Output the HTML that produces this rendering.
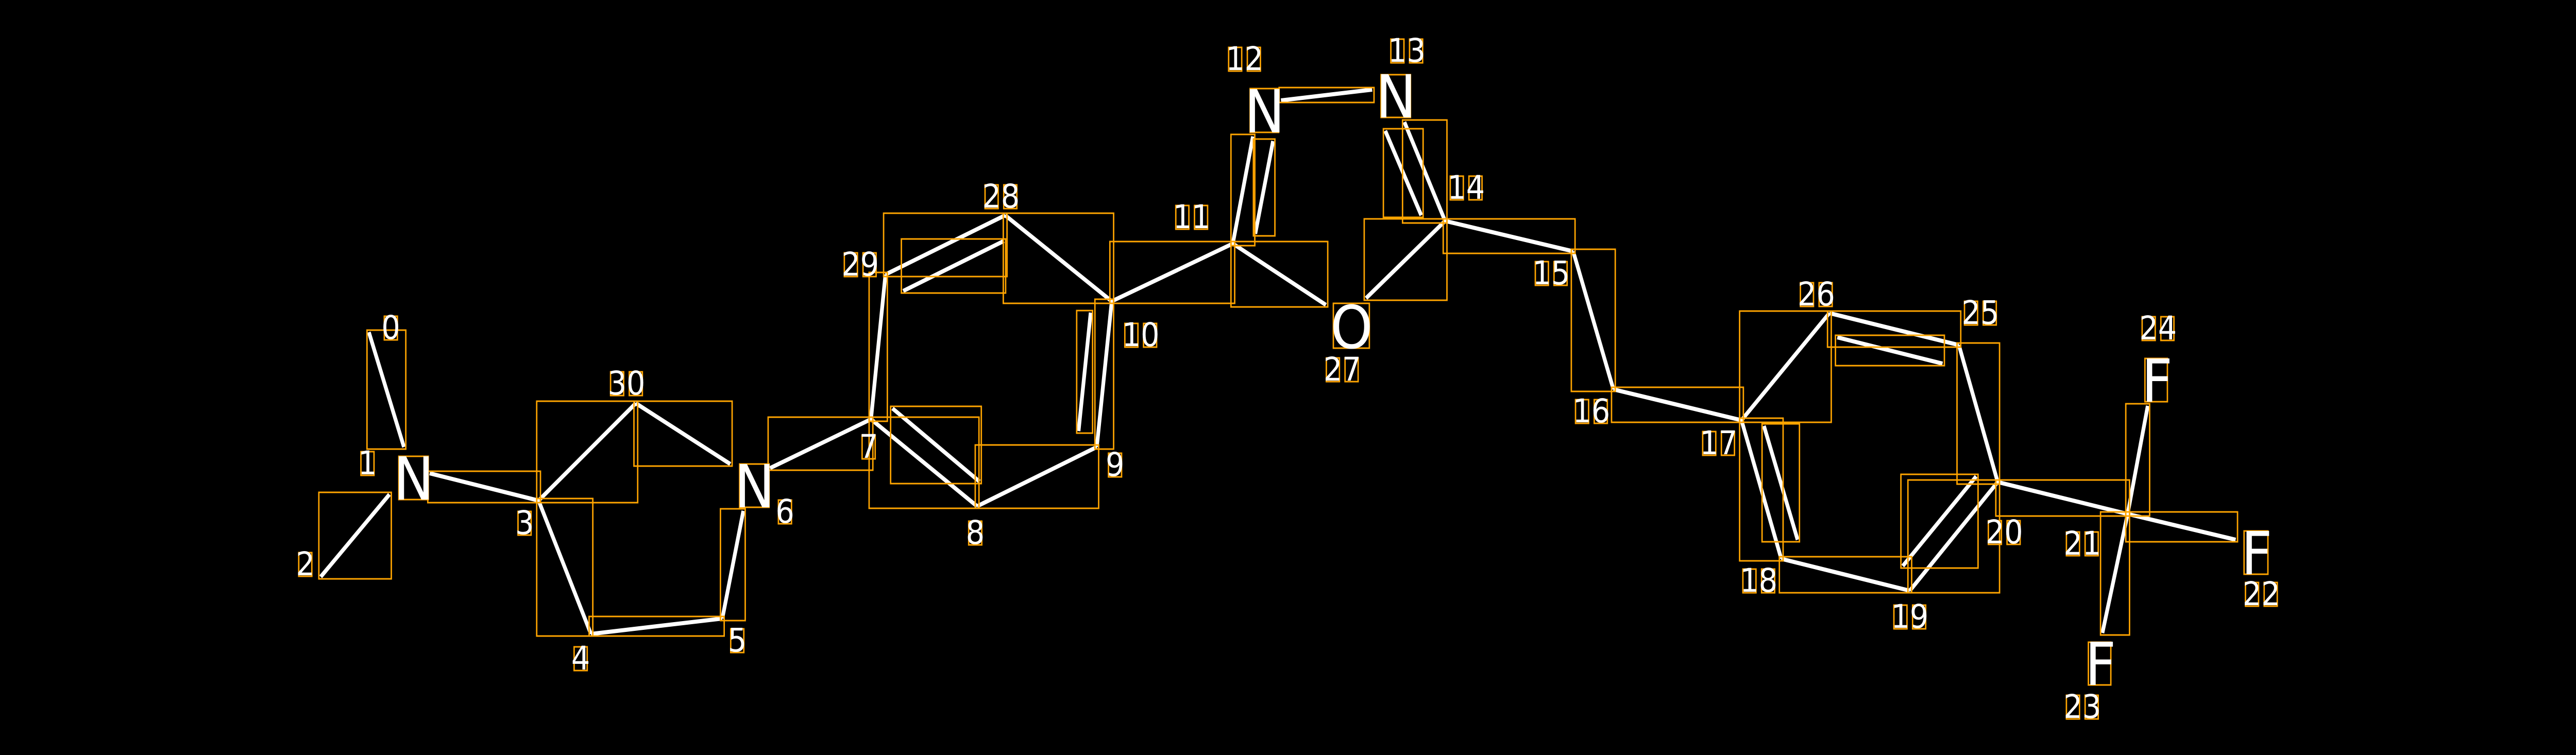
<!DOCTYPE html>
<html><head><meta charset="utf-8"><style>
html,body{margin:0;padding:0;background:#000;width:100%;height:100%;overflow:hidden;}
svg{display:block;position:fixed;left:0;top:0;width:100vw;height:100vh;}
</style></head><body>
<svg viewBox="0 0 5510 1466" preserveAspectRatio="none" xmlns="http://www.w3.org/2000/svg">
<rect x="0" y="0" width="5510" height="1466" fill="#000"/>
<g stroke="#fff" stroke-width="8">
<line x1="789" y1="645" x2="864" y2="868"/>
<line x1="833" y1="960" x2="686" y2="1120"/>
<line x1="919" y1="919" x2="1152" y2="972"/>
<line x1="1152" y1="972" x2="1360" y2="783"/>
<line x1="1360" y1="783" x2="1562" y2="901"/>
<line x1="1152" y1="972" x2="1264" y2="1231"/>
<line x1="1264" y1="1231" x2="1545" y2="1201"/>
<line x1="1545" y1="1201" x2="1590" y2="992"/>
<line x1="1647" y1="909" x2="1863" y2="814"/>
<line x1="1863" y1="814" x2="2090" y2="983"/>
<line x1="1909" y1="793" x2="2095" y2="935"/>
<line x1="2090" y1="983" x2="2346" y2="868"/>
<line x1="2346" y1="868" x2="2378" y2="585"/>
<line x1="2307" y1="837" x2="2333" y2="607"/>
<line x1="2378" y1="585" x2="2150" y2="418"/>
<line x1="2150" y1="418" x2="1894" y2="533"/>
<line x1="1932" y1="565" x2="2147" y2="468"/>
<line x1="1894" y1="533" x2="1863" y2="814"/>
<line x1="2378" y1="585" x2="2637" y2="473"/>
<line x1="2637" y1="473" x2="2680" y2="265"/>
<line x1="2685" y1="454" x2="2723" y2="274"/>
<line x1="2740" y1="195" x2="2935" y2="174"/>
<line x1="3004" y1="237" x2="3091" y2="429"/>
<line x1="2963" y1="254" x2="3040" y2="418"/>
<line x1="3091" y1="429" x2="2922" y2="579"/>
<line x1="2637" y1="473" x2="2836" y2="592"/>
<line x1="3091" y1="429" x2="3365" y2="488"/>
<line x1="3365" y1="488" x2="3451" y2="756"/>
<line x1="3451" y1="756" x2="3725" y2="816"/>
<line x1="3725" y1="816" x2="3913" y2="608"/>
<line x1="3913" y1="608" x2="4190" y2="670"/>
<line x1="3930" y1="655" x2="4155" y2="706"/>
<line x1="4190" y1="670" x2="4273" y2="936"/>
<line x1="4273" y1="936" x2="4085" y2="1147"/>
<line x1="4070" y1="1099" x2="4227" y2="925"/>
<line x1="4085" y1="1147" x2="3810" y2="1085"/>
<line x1="3810" y1="1085" x2="3725" y2="816"/>
<line x1="3773" y1="827" x2="3845" y2="1048"/>
<line x1="4273" y1="936" x2="4551" y2="998"/>
<line x1="4551" y1="998" x2="4594" y2="788"/>
<line x1="4551" y1="998" x2="4782" y2="1048"/>
<line x1="4551" y1="998" x2="4497" y2="1229"/>
</g>
<g fill="none" stroke="#FFA500" stroke-width="3">
<rect x="785" y="641" width="83" height="231"/>
<rect x="682" y="956" width="155" height="168"/>
<rect x="915" y="915" width="241" height="61"/>
<rect x="1148" y="779" width="216" height="197"/>
<rect x="1356" y="779" width="210" height="126"/>
<rect x="1148" y="968" width="120" height="267"/>
<rect x="1260" y="1197" width="289" height="38"/>
<rect x="1541" y="988" width="53" height="217"/>
<rect x="1643" y="810" width="224" height="103"/>
<rect x="1859" y="810" width="235" height="177"/>
<rect x="1905" y="789" width="194" height="150"/>
<rect x="2086" y="864" width="264" height="123"/>
<rect x="2342" y="581" width="40" height="291"/>
<rect x="2303" y="603" width="34" height="238"/>
<rect x="2146" y="414" width="236" height="175"/>
<rect x="1890" y="414" width="264" height="123"/>
<rect x="1928" y="464" width="223" height="105"/>
<rect x="1859" y="529" width="39" height="289"/>
<rect x="2374" y="469" width="267" height="120"/>
<rect x="2633" y="261" width="51" height="216"/>
<rect x="2681" y="270" width="46" height="188"/>
<rect x="2736" y="170" width="203" height="29"/>
<rect x="3000" y="233" width="95" height="200"/>
<rect x="2959" y="250" width="85" height="172"/>
<rect x="2918" y="425" width="177" height="158"/>
<rect x="2633" y="469" width="207" height="127"/>
<rect x="3087" y="425" width="282" height="67"/>
<rect x="3361" y="484" width="94" height="276"/>
<rect x="3447" y="752" width="282" height="68"/>
<rect x="3721" y="604" width="196" height="216"/>
<rect x="3909" y="604" width="285" height="70"/>
<rect x="3926" y="651" width="233" height="59"/>
<rect x="4186" y="666" width="91" height="274"/>
<rect x="4081" y="932" width="196" height="219"/>
<rect x="4066" y="921" width="165" height="182"/>
<rect x="3806" y="1081" width="283" height="70"/>
<rect x="3721" y="812" width="93" height="277"/>
<rect x="3769" y="823" width="80" height="229"/>
<rect x="4269" y="932" width="286" height="70"/>
<rect x="4547" y="784" width="51" height="218"/>
<rect x="4547" y="994" width="239" height="58"/>
<rect x="4493" y="994" width="62" height="239"/>
<rect x="853" y="886" width="63" height="84"/>
<rect x="1582" y="901" width="63" height="84"/>
<rect x="2674" y="172" width="61" height="85"/>
<rect x="2954" y="145" width="63" height="83"/>
<rect x="2852" y="589" width="77" height="87"/>
<rect x="4588" y="696" width="48" height="84"/>
<rect x="4800" y="1031" width="51" height="84"/>
<rect x="4467" y="1247" width="48" height="83"/>
<rect x="822" y="614" width="28" height="46"/>
<rect x="772" y="877" width="28" height="46"/>
<rect x="639" y="1073" width="28" height="46"/>
<rect x="1108" y="993" width="28" height="46"/>
<rect x="1306" y="722" width="28" height="46"/><rect x="1346" y="722" width="28" height="46"/>
<rect x="1228" y="1256" width="28" height="46"/>
<rect x="1563" y="1221" width="28" height="46"/>
<rect x="1665" y="971" width="28" height="46"/>
<rect x="1844" y="845" width="28" height="46"/>
<rect x="2072" y="1012" width="28" height="46"/>
<rect x="2371" y="880" width="28" height="46"/>
<rect x="1806" y="491" width="28" height="46"/><rect x="1846" y="491" width="28" height="46"/>
<rect x="2107" y="359" width="28" height="46"/><rect x="2147" y="359" width="28" height="46"/>
<rect x="2406" y="628" width="28" height="46"/><rect x="2446" y="628" width="28" height="46"/>
<rect x="2515" y="399" width="28" height="46"/><rect x="2555" y="399" width="28" height="46"/>
<rect x="2628" y="92" width="28" height="46"/><rect x="2668" y="92" width="28" height="46"/>
<rect x="2975" y="76" width="28" height="46"/><rect x="3015" y="76" width="28" height="46"/>
<rect x="3102" y="342" width="28" height="46"/><rect x="3142" y="342" width="28" height="46"/>
<rect x="2837" y="695" width="28" height="46"/><rect x="2877" y="695" width="28" height="46"/>
<rect x="3284" y="508" width="28" height="46"/><rect x="3324" y="508" width="28" height="46"/>
<rect x="3370" y="776" width="28" height="46"/><rect x="3410" y="776" width="28" height="46"/>
<rect x="3642" y="838" width="28" height="46"/><rect x="3682" y="838" width="28" height="46"/>
<rect x="3851" y="549" width="28" height="46"/><rect x="3891" y="549" width="28" height="46"/>
<rect x="4202" y="585" width="28" height="46"/><rect x="4242" y="585" width="28" height="46"/>
<rect x="4582" y="615" width="28" height="46"/><rect x="4622" y="615" width="28" height="46"/>
<rect x="4803" y="1131" width="28" height="46"/><rect x="4843" y="1131" width="28" height="46"/>
<rect x="4420" y="1350" width="28" height="46"/><rect x="4460" y="1350" width="28" height="46"/>
<rect x="4420" y="1033" width="28" height="46"/><rect x="4460" y="1033" width="28" height="46"/>
<rect x="4253" y="1011" width="28" height="46"/><rect x="4293" y="1011" width="28" height="46"/>
<rect x="4051" y="1175" width="28" height="46"/><rect x="4091" y="1175" width="28" height="46"/>
<rect x="3728" y="1105" width="28" height="46"/><rect x="3768" y="1105" width="28" height="46"/>
</g>
<g fill="#fff" font-family="DejaVu Sans, sans-serif" font-size="115" text-anchor="middle">
<text x="885" y="970">N</text>
<text x="1614" y="985">N</text>
<text x="2705" y="257">N</text>
<text x="2986" y="228">N</text>
<text x="2891" y="676">O</text>
<text x="4614" y="780">F</text>
<text x="4827" y="1115">F</text>
<text x="4493" y="1330">F</text>
</g>
<g fill="#fff" font-family="DejaVu Sans, sans-serif" font-size="63" text-anchor="middle" dominant-baseline="central">
<text x="836" y="637">0</text>
<text x="786" y="900">1</text>
<text x="653" y="1096">2</text>
<text x="1122" y="1016">3</text>
<text x="1340" y="745">30</text>
<text x="1242" y="1279">4</text>
<text x="1577" y="1244">5</text>
<text x="1679" y="994">6</text>
<text x="1858" y="868">7</text>
<text x="2086" y="1035">8</text>
<text x="2385" y="903">9</text>
<text x="1840" y="514">29</text>
<text x="2141" y="382">28</text>
<text x="2440" y="651">10</text>
<text x="2549" y="422">11</text>
<text x="2662" y="115">12</text>
<text x="3009" y="99">13</text>
<text x="3136" y="365">14</text>
<text x="2871" y="718">27</text>
<text x="3318" y="531">15</text>
<text x="3404" y="799">16</text>
<text x="3676" y="861">17</text>
<text x="3885" y="572">26</text>
<text x="4236" y="608">25</text>
<text x="4616" y="638">24</text>
<text x="4837" y="1154">22</text>
<text x="4454" y="1373">23</text>
<text x="4454" y="1056">21</text>
<text x="4287" y="1034">20</text>
<text x="4085" y="1198">19</text>
<text x="3762" y="1128">18</text>
</g>
</svg>
</body></html>
